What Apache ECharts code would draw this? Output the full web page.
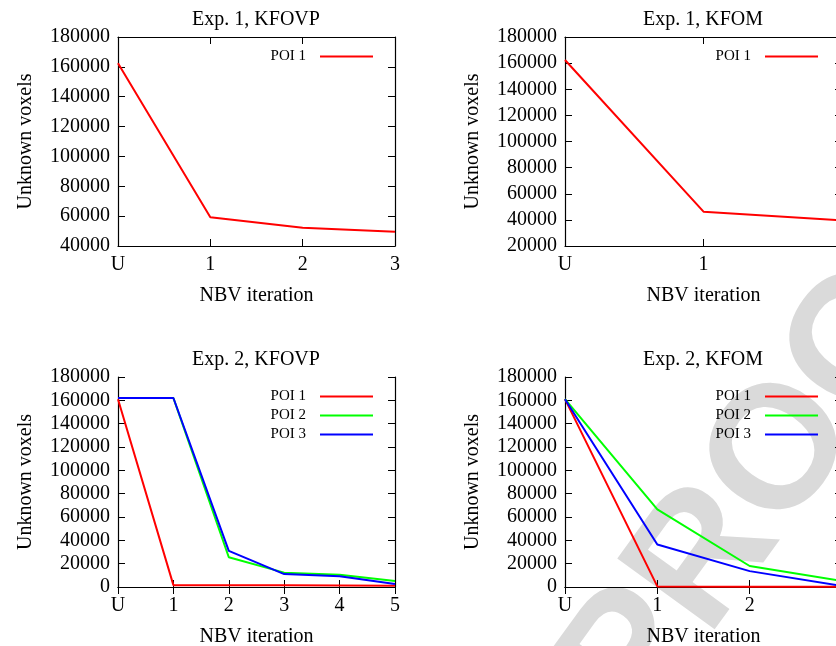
<!DOCTYPE html>
<html>
<head>
<meta charset="utf-8">
<script src="https://cdn.jsdelivr.net/npm/echarts@6/dist/echarts.min.js"></script>
<style>
  html, body { margin: 0; padding: 0; background: #fff; }
  #chart { width: 836px; height: 646px; }
</style>
</head>
<body>
<div id="chart"></div>
<script>
// categories (NBV iteration)
var cats1a = ['U', '1', '2', '3'];
var cats1b = ['U', '1', '2'];
var cats2a = ['U', '1', '2', '3', '4', '5'];
var cats2b = ['U', '1', '2', '3'];

// Exp. 1
var kfovp1Poi1 = [162400, 59200, 52300, 49500];
var kfom1Poi1 = [162400, 46300, 39700];

// Exp. 2, KFOVP
var kfovp2Poi1 = [161000, 1600, 1500, 1400, 1300, 1100];
var kfovp2Poi2 = [162000, 162000, 25500, 12300, 10600, 5200];
var kfovp2Poi3 = [162000, 162000, 31000, 11100, 9300, 2600];

// Exp. 2, KFOM
var kfom2Poi1 = [161000, 500, 300, 200];
var kfom2Poi2 = [161000, 66500, 18000, 5200];
var kfom2Poi3 = [161000, 36500, 13600, 800];

var titles = ['Exp. 1, KFOVP', 'Exp. 1, KFOM', 'Exp. 2, KFOVP', 'Exp. 2, KFOM'];
var FONT = 'Liberation Serif';

var panels = [
    {left: 118, top: 37, h: 209, cats: cats1a, min: 40000, max: 180000, series: [kfovp1Poi1]},
    {left: 565, top: 37, h: 209, cats: cats1b, min: 20000, max: 180000, series: [kfom1Poi1]},
    {left: 118, top: 377, h: 210, cats: cats2a, min: 0, max: 180000, series: [kfovp2Poi1, kfovp2Poi2, kfovp2Poi3]},
    {left: 565, top: 377, h: 210, cats: cats2b, min: 0, max: 180000, series: [kfom2Poi1, kfom2Poi2, kfom2Poi3]}
];
var colors = ['#ff0000', '#00ff00', '#0000ff'];
var names = ['POI 1', 'POI 2', 'POI 3'];

var grid = [], xAxis = [], yAxis = [], series = [], legend = [], title = [];
var axisLine = {show: true, lineStyle: {color: '#000', width: 1.2}};
var tick = {show: true, inside: true, length: 7, lineStyle: {color: '#000'}};

panels.forEach(function (p, i) {
    grid.push({left: p.left, top: p.top, width: 277, height: p.h, outerBoundsMode: 'none', containLabel: false});
    title.push({
        text: titles[i], left: p.left + 138, top: p.top - 27, textAlign: 'center', padding: 0,
        textStyle: {fontFamily: FONT, fontSize: 20, fontWeight: 'normal', color: '#000'}
    });
    xAxis.push({
        type: 'category', gridIndex: i, data: p.cats, boundaryGap: false, position: 'bottom',
        name: 'NBV iteration', nameLocation: 'middle', nameGap: 40,
        nameTextStyle: {fontFamily: FONT, fontSize: 20, color: '#000'},
        axisLine: axisLine, axisTick: tick,
        axisLabel: {fontFamily: FONT, fontSize: 20, color: '#000', margin: 9},
        splitLine: {show: false}
    });
    xAxis.push({
        type: 'category', gridIndex: i, data: p.cats, boundaryGap: false, position: 'top',
        axisLine: axisLine, axisTick: tick, axisLabel: {show: false}, splitLine: {show: false}
    });
    yAxis.push({
        type: 'value', gridIndex: i, min: p.min, max: p.max, interval: 20000, position: 'left',
        name: 'Unknown voxels', nameLocation: 'middle', nameGap: 82,
        nameTextStyle: {fontFamily: FONT, fontSize: 20, color: '#000'},
        axisLine: axisLine, axisTick: tick,
        axisLabel: {fontFamily: FONT, fontSize: 20, color: '#000', margin: 8,
            formatter: function (v) { return String(v); }},
        splitLine: {show: false}
    });
    yAxis.push({
        type: 'value', gridIndex: i, min: p.min, max: p.max, interval: 20000, position: 'right',
        axisLine: axisLine, axisTick: tick, axisLabel: {show: false}, splitLine: {show: false}
    });
    p.series.forEach(function (d, k) {
        series.push({
            name: names[k], type: 'line', xAxisIndex: i * 2, yAxisIndex: i * 2,
            data: d, symbol: 'none', color: colors[k],
            lineStyle: {width: 2, color: colors[k]}
        });
    });
    legend.push({
        data: names.slice(0, p.series.length), orient: 'vertical', align: 'right',
        right: p.left === 118 ? 463 : 18, top: p.top + 12, padding: 0,
        icon: 'rect', itemWidth: 53, itemHeight: 2, itemGap: 4, selectedMode: false,
        textStyle: {fontFamily: FONT, fontSize: 15, lineHeight: 15, color: '#000', padding: [0, 9, 0, 0]}
    });
});

var myChart = echarts.init(document.getElementById('chart'));
myChart.setOption({
    animation: false,
    title: title,
    grid: grid,
    xAxis: xAxis,
    yAxis: yAxis,
    legend: legend,
    series: series,
    // light grey "PROOF" stamp behind the plots
    graphic: [{
        type: 'text', x: 783, y: 453, rotation: 54 * Math.PI / 180, z: 0, silent: true,
        style: {text: 'PROOF', fontFamily: 'Liberation Sans', fontWeight: 'bold', fontSize: 175,
            fill: '#dadada', textAlign: 'center', textVerticalAlign: 'middle'}
    }]
});
</script>
</body>
</html>
